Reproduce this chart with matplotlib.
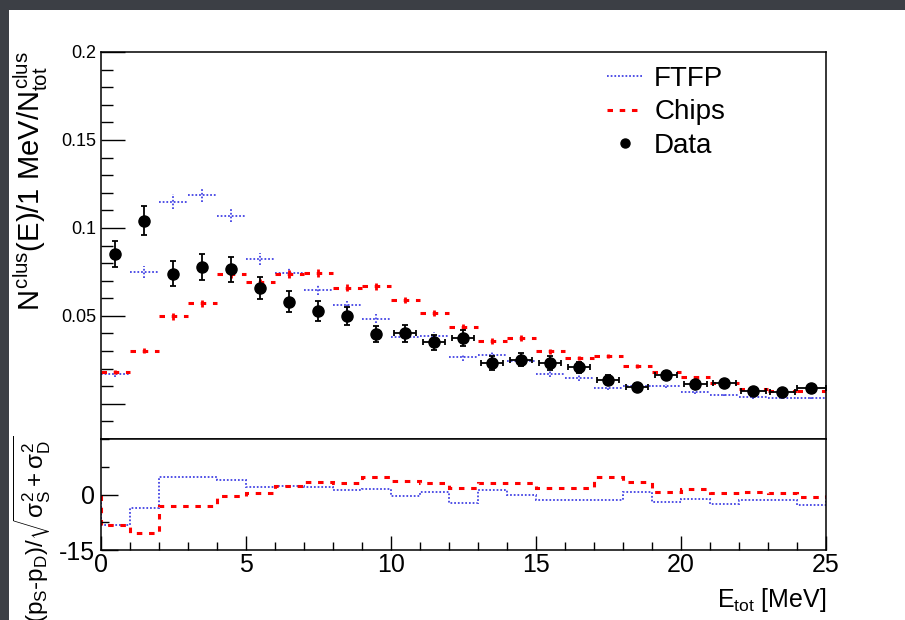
import numpy as np
import matplotlib
matplotlib.use("Agg")
import matplotlib.pyplot as plt
from matplotlib.lines import Line2D
from matplotlib.patches import Rectangle
from matplotlib.ticker import MultipleLocator

plt.rcParams["font.family"] = ["Liberation Sans", "DejaVu Sans"]
plt.rcParams["mathtext.fontset"] = "custom"
plt.rcParams["mathtext.rm"] = "Liberation Sans"
plt.rcParams["mathtext.it"] = "Liberation Sans"
plt.rcParams["mathtext.bf"] = "Liberation Sans:bold"
plt.rcParams["mathtext.sf"] = "Liberation Sans"

# 1 MeV bins from 0 to 25 MeV
bin_edges = [0, 1, 2, 3, 4, 5, 6, 7, 8, 9, 10, 11, 12, 13, 14, 15, 16, 17, 18, 19, 20,
             21, 22, 23, 24, 25]

data_y = [0.085, 0.104, 0.074, 0.078, 0.0765, 0.0657, 0.058, 0.0527, 0.050, 0.0396,
          0.040, 0.035, 0.0372, 0.0232, 0.0251, 0.0232, 0.0208, 0.0136, 0.0096, 0.0164,
          0.0111, 0.0117, 0.0075, 0.0069, 0.009]
data_err = [0.0074, 0.0083, 0.0071, 0.0074, 0.007, 0.0062, 0.006, 0.0056, 0.0052, 0.0045,
            0.0046, 0.0042, 0.0045, 0.0038, 0.0037, 0.0037, 0.0032, 0.0025, 0.002, 0.0022,
            0.002, 0.0018, 0.0016, 0.0016, 0.0016]
data_xerr = [0, 0, 0, 0, 0, 0, 0, 0, 0, 0,
             0.38, 0.38, 0.38, 0.38, 0.38, 0.38, 0.38, 0.38, 0.38, 0.38,
             0.4, 0.4, 0.42, 0.42, 0.5]

ftfp_y = [0.0171, 0.0748, 0.115, 0.1188, 0.107, 0.0823, 0.0746, 0.0647, 0.0559, 0.0485,
          0.0378, 0.0387, 0.0264, 0.0279, 0.0242, 0.0171, 0.0147, 0.009, 0.0103, 0.0102,
          0.0066, 0.0052, 0.0038, 0.0034, 0.0034]
ftfp_err = [0.0016, 0.0035, 0.004, 0.004, 0.0038, 0.0035, 0.0032, 0.003, 0.0028, 0.0026,
            0.0023, 0.0023, 0.002, 0.002, 0.0019, 0.0016, 0.0015, 0.0012, 0.0012, 0.0012,
            0.001, 0.0009, 0.0008, 0.0007, 0.0007]

chips_y = [0.018, 0.0302, 0.0498, 0.0572, 0.0738, 0.069, 0.074, 0.0742, 0.0659, 0.0668,
           0.059, 0.0515, 0.0436, 0.0357, 0.0374, 0.0298, 0.026, 0.027, 0.0215, 0.0183,
           0.0151, 0.0119, 0.0085, 0.0075, 0.0075]
chips_err = [0.0012, 0.0015, 0.002, 0.002, 0.0022, 0.0021, 0.0022, 0.0022, 0.002, 0.002,
             0.0019, 0.0018, 0.0016, 0.0015, 0.0015, 0.0013, 0.0012, 0.0012, 0.0011, 0.001,
             0.0009, 0.0008, 0.0007, 0.0006, 0.0006]

pull_ftfp = [-8.2, -3.7, 4.8, 4.8, 3.8, 2.1, 2.4, 1.9, 1.1, 1.5,
             -0.5, 0.8, -2.3, 1.2, -0.2, -1.4, -1.6, -1.4, 0.8, -1.9,
             -1.3, -2.5, -1.6, -1.4, -2.9]
pull_chips = [-8.2, -10.4, -3.1, -3.1, -0.5, 0.5, 2.4, 3.4, 3.0, 4.8,
              3.6, 3.2, 1.7, 3.0, 3.0, 1.7, 1.7, 4.7, 3.5, 0.8,
              1.6, 0.5, 0.7, 0.5, -0.6]

BLUE = "#5050e6"
RED = "#ff0000"
SLATE = "#3c3f45"
DOT = (0, (0.9, 1.0))
DASH = (0, (1.8, 2.2))

edges = np.array(bin_edges, dtype=float)
centers = 0.5 * (edges[:-1] + edges[1:])

fig = plt.figure(figsize=(9.05, 6.2), dpi=100, facecolor="white")
# slide border: dark band on top and a thin strip on the left
fig.patches.append(Rectangle((0, 610 / 620), 1, 10 / 620, transform=fig.transFigure,
                             facecolor=SLATE, edgecolor="none", zorder=-10))
fig.patches.append(Rectangle((0, 0), 9 / 905, 1, transform=fig.transFigure,
                             facecolor=SLATE, edgecolor="none", zorder=-10))

ax = fig.add_axes([100.7 / 905, (620 - 439) / 620, 725.3 / 905, 387 / 620])
ax2 = fig.add_axes([100.7 / 905, (620 - 550) / 620, 725.3 / 905, 111 / 620])

# top panel: MC histograms with errors, then data
ax.hlines(ftfp_y, edges[:-1], edges[1:], colors=BLUE, linestyles=DOT, linewidth=1.4)
ax.vlines(centers, np.array(ftfp_y) - ftfp_err, np.array(ftfp_y) + ftfp_err,
          colors=BLUE, linestyles=DOT, linewidth=1.4)
ax.hlines(chips_y, edges[:-1], edges[1:], colors=RED, linestyles=DASH, linewidth=2.2)
ax.vlines(centers, np.array(chips_y) - chips_err, np.array(chips_y) + chips_err,
          colors=RED, linewidth=2)
ax.errorbar(centers, data_y, yerr=data_err, xerr=data_xerr, fmt="o", color="black",
            ms=8, elinewidth=1.3, capsize=2.5, capthick=1.3, zorder=5)

ax.set_xlim(0, 25)
ax.set_ylim(-0.02, 0.2)
ax.set_xticks([])
ax.set_yticks([0, 0.05, 0.1, 0.15, 0.2], ["", "0.05", "0.1", "0.15", "0.2"])
ax.yaxis.set_minor_locator(MultipleLocator(0.01))
ax.tick_params(axis="y", which="major", direction="in", length=17, width=1, labelsize=13, pad=3)
ax.tick_params(axis="y", which="minor", direction="in", length=8.5, width=1)
for s in ax.spines.values():
    s.set_linewidth(1.1)

handles = [Line2D([], [], color=BLUE, ls=DOT, lw=1.4),
           Line2D([], [], color=RED, ls=DASH, lw=2.2),
           Line2D([], [], color="black", ls="none", marker="o", ms=6.5)]
ax.legend(handles, ["FTFP", "Chips", "Data"], loc="upper left",
          bbox_to_anchor=(0.698, 0.965), frameon=False, fontsize=20,
          handlelength=1.3, handletextpad=0.4, labelspacing=0.28,
          borderpad=0, borderaxespad=0)

# bottom panel: pulls
ax2.stairs(pull_ftfp, edges, color=BLUE, linestyle=DOT, linewidth=1.4)
ax2.stairs(pull_chips, edges, color=RED, linestyle=DASH, linewidth=2.2)
ax2.set_xlim(0, 25)
ax2.set_ylim(-15, 15)
ax2.set_yticks([-15, 0], ["-15", "0"])
ax2.yaxis.set_minor_locator(MultipleLocator(7.5))
ax2.xaxis.set_major_locator(MultipleLocator(5))
ax2.xaxis.set_minor_locator(MultipleLocator(1))
ax2.tick_params(axis="x", which="major", direction="in", length=10, width=1, labelsize=18, pad=2)
ax2.tick_params(axis="x", which="minor", direction="in", length=5.8, width=1)
ax2.tick_params(axis="y", which="major", direction="in", length=12, width=1, labelsize=18, pad=4)
ax2.tick_params(axis="y", which="minor", direction="in", length=6, width=1)
for s in ax2.spines.values():
    s.set_linewidth(1.1)

fig.text(31 / 905, 1 - 181 / 620, r"$N^{clus}(E)/1\ MeV/N^{clus}_{tot}$",
         rotation=90, ha="center", va="center", fontsize=21)
fig.text(32 / 905, 1 - 529 / 620,
         r"(p$_{S}$-p$_{D}$)/$\sqrt{\sigma_{S}^{2} + \sigma_{D}^{2}}$",
         rotation=90, ha="center", va="center", fontsize=17.5)
fig.text(826 / 905, 1 - 607 / 620, r"$E_{tot}$ [MeV]", ha="right", va="baseline", fontsize=18)

fig.savefig("out.png", dpi=100, facecolor=fig.get_facecolor())
